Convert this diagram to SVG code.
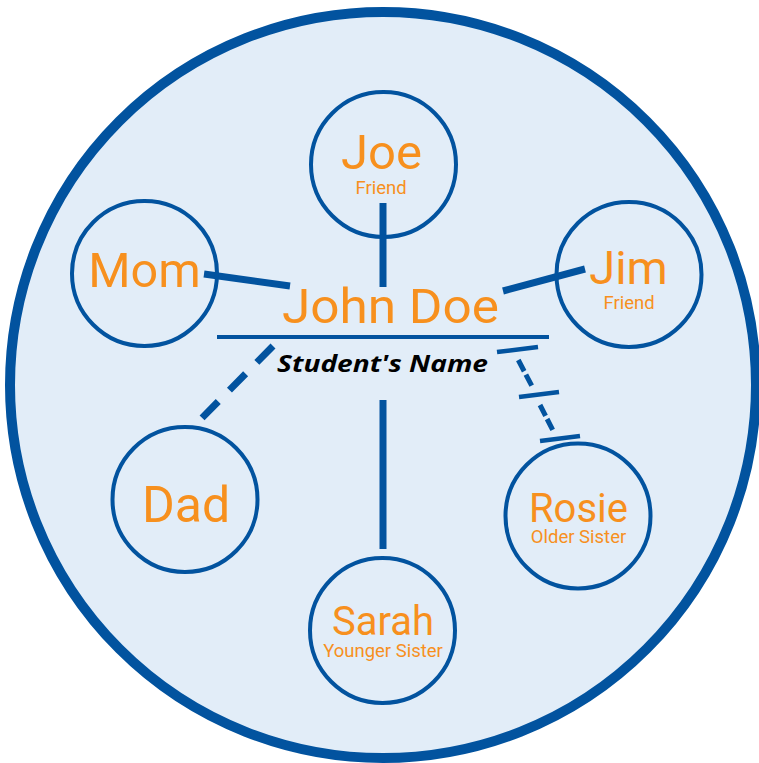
<svg xmlns="http://www.w3.org/2000/svg" width="759" height="763" viewBox="0 0 759 763">
  <style>
    .ring { fill: none; stroke: #02539f; stroke-width: 4; }
    .link { stroke: #02539f; stroke-width: 7; fill: none; }
    .thin { stroke: #02539f; stroke-width: 5; fill: none; }
    .bar { stroke: #02539f; stroke-width: 4.5; fill: none; }
    .name { font-family: Roboto, "Open Sans", sans-serif; fill: #f7901e; text-anchor: middle; }
    .role { font-family: Roboto, "Open Sans", sans-serif; fill: #f7901e; text-anchor: middle; font-size: 18.5px; }
  </style>

  <rect width="759" height="763" fill="#ffffff"/>

  <!-- outer boundary -->
  <circle cx="383" cy="385" r="373" fill="#e2edf8" stroke="#02539f" stroke-width="10"/>

  <!-- connectors -->
  <g id="connectors">
    <line class="link" x1="383" y1="203" x2="383" y2="287"/>
    <line class="link" x1="204" y1="274" x2="290" y2="286"/>
    <line class="link" x1="503" y1="291" x2="585" y2="269"/>
    <line class="link" x1="383" y1="400" x2="383" y2="549"/>
    <line class="link" x1="273" y1="346" x2="202" y2="418" stroke-dasharray="23 16"/>
    <!-- dashed link with cross bars -->
    <line class="bar" x1="497" y1="352" x2="538" y2="347"/>
    <line class="thin" x1="518.3" y1="360" x2="531.7" y2="385.7" stroke-dasharray="12.7 3.7"/>
    <line class="bar" x1="519" y1="397" x2="559" y2="392"/>
    <line class="thin" x1="540" y1="405" x2="552.7" y2="430" stroke-dasharray="12.3 3.4"/>
    <line class="bar" x1="540" y1="441" x2="580" y2="436"/>
  </g>

  <!-- central student -->
  <g id="student">
    <text class="name" x="390.5" y="323" font-size="49" textLength="217" lengthAdjust="spacingAndGlyphs">John Doe</text>
    <line x1="217" y1="337" x2="549" y2="337" stroke="#02539f" stroke-width="4"/>
    <text x="382.5" y="372" font-family="'Open Sans', 'Liberation Sans', sans-serif" font-weight="700" font-style="italic" font-size="24" fill="#000000" text-anchor="middle" textLength="211" lengthAdjust="spacingAndGlyphs">Student's Name</text>
  </g>

  <g id="joe">
    <circle class="ring" cx="383.5" cy="164.5" r="72.5"/>
    <text class="name" x="381.5" y="169" font-size="49">Joe</text>
    <text class="role" x="381" y="194">Friend</text>
  </g>

  <g id="mom">
    <circle class="ring" cx="144.5" cy="273.5" r="72.5"/>
    <text class="name" x="144.5" y="287" font-size="48.5">Mom</text>
  </g>

  <g id="jim">
    <circle class="ring" cx="629" cy="274.5" r="72.5"/>
    <text class="name" x="628.5" y="284" font-size="47">Jim</text>
    <text class="role" x="629" y="309">Friend</text>
  </g>

  <g id="dad">
    <circle class="ring" cx="185" cy="499.5" r="72.5"/>
    <text class="name" x="186" y="522" font-size="50">Dad</text>
  </g>

  <g id="sarah">
    <circle class="ring" cx="382.5" cy="630.5" r="72.5"/>
    <text class="name" x="383" y="635" font-size="40">Sarah</text>
    <text class="role" x="383" y="657">Younger Sister</text>
  </g>

  <g id="rosie">
    <circle class="ring" cx="578" cy="516" r="72.5"/>
    <text class="name" x="578.5" y="522" font-size="40">Rosie</text>
    <text class="role" x="578.5" y="543">Older Sister</text>
  </g>
</svg>
